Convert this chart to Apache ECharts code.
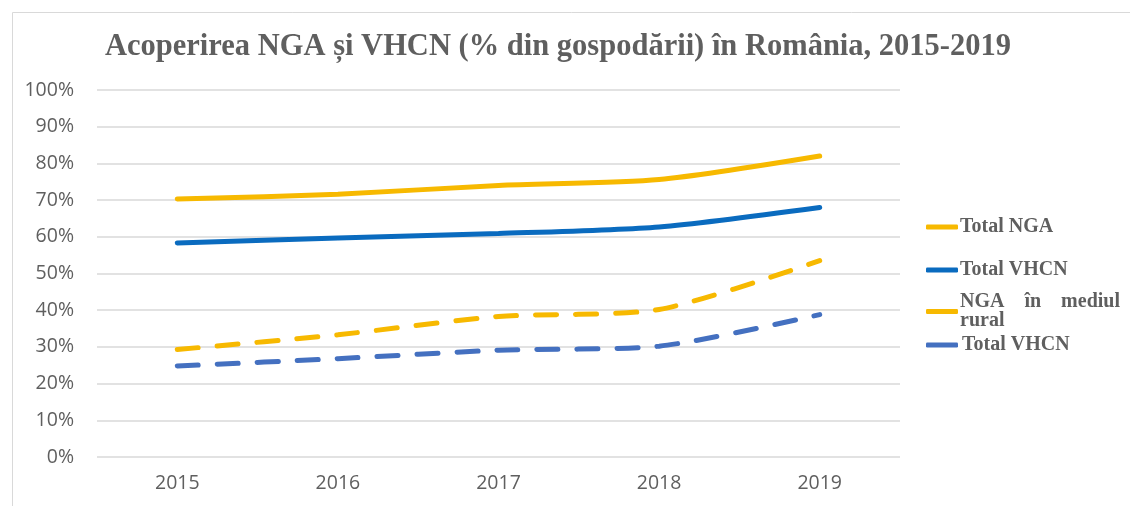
<!DOCTYPE html>
<html><head><meta charset="utf-8">
<script src="https://cdn.jsdelivr.net/npm/echarts@6/dist/echarts.min.js"></script>
<style>html,body{margin:0;padding:0;background:#fff}#c{width:1130px;height:506px}</style>
</head><body><div id="c"></div>
<script>
const categories = ['2015','2016','2017','2018','2019'];
const totalNGA = [70.3, 71.6, 74.0, 75.6, 82.0];
const totalVHCN = [58.3, 59.7, 60.9, 62.7, 68.0];
const ruralNGA = [29.3, 33.3, 38.3, 40.2, 53.5];
const ruralVHCN = [24.8, 26.8, 29.1, 30.2, 38.8];
const seriesNames = ['Total NGA', 'Total VHCN', 'NGA în mediul rural', 'Total VHCN '];

const chart = echarts.init(document.getElementById('c'));
const legendText = {fontFamily:'"Liberation Serif","Times New Roman",serif', fontWeight:'bold', fontSize:20, color:'#5f5f5f'};
function mkLegend(name, top, fmt, pad){
  return {data:[{name:name, icon:'roundRect'}], left:926, top:top, orient:'vertical', itemWidth:32, itemHeight:5,
    itemStyle:{borderWidth:0}, lineStyle:{width:0},
    textStyle:Object.assign({lineHeight:19, padding:[0,0,0,pad]}, legendText), formatter: fmt || (n=>n.trim()), itemGap:0, padding:0};
}
function mkSeries(name, data, color, dashed){
  return {name:name, type:'line', data:data, smooth:0.25, symbol:'none',
    lineStyle:{color:color, width:5, type: dashed ? [21,19] : 'solid', cap:'round'},
    itemStyle:{color:color}};
}
chart.setOption({
  animation:false,
  title:{text:'Acoperirea NGA și VHCN (% din gospodării) în România, 2015-2019', left:553, textAlign:'center', top:27,
    textStyle:{fontFamily:'"Liberation Serif","Times New Roman",serif', fontWeight:'bold', fontSize:30.5, color:'#5f5f5f'}},
  graphic:[{type:'rect', shape:{x:12.5,y:12.5,width:1200,height:600}, style:{fill:null, stroke:'#d9d9d9', lineWidth:1}}],
  grid:{left:97, right:230, top:90, bottom:49},
  legend:[
    mkLegend(seriesNames[0], 217, null, -3),
    mkLegend(seriesNames[1], 260, null, -3),
    mkLegend(seriesNames[2], 292, ()=>'NGA    în    mediul\nrural', -3),
    mkLegend(seriesNames[3], 335, null, -1)
  ],
  xAxis:{type:'category', data:categories, boundaryGap:true,
    axisLine:{show:false}, axisTick:{show:false},
    axisLabel:{color:'#5f5f5f', fontSize:19.5, fontFamily:'"Open Sans","Liberation Sans",sans-serif', margin:16}},
  yAxis:{type:'value', min:0, max:100, interval:10,
    axisLine:{show:false}, axisTick:{show:false},
    axisLabel:{formatter:'{value}%', color:'#5f5f5f', fontSize:19.5, fontFamily:'"Open Sans","Liberation Sans",sans-serif', margin:23}},
  series:[
    mkSeries(seriesNames[0], totalNGA, '#F7B900', false),
    mkSeries(seriesNames[1], totalVHCN, '#0A6BBF', false),
    mkSeries(seriesNames[2], ruralNGA, '#F7B900', true),
    mkSeries(seriesNames[3], ruralVHCN, '#4470C0', true)
  ]
});
chart.setOption({yAxis:{splitLine:{lineStyle:{color:'#d9d9d9', width:1.5}}}});
</script></body></html>
